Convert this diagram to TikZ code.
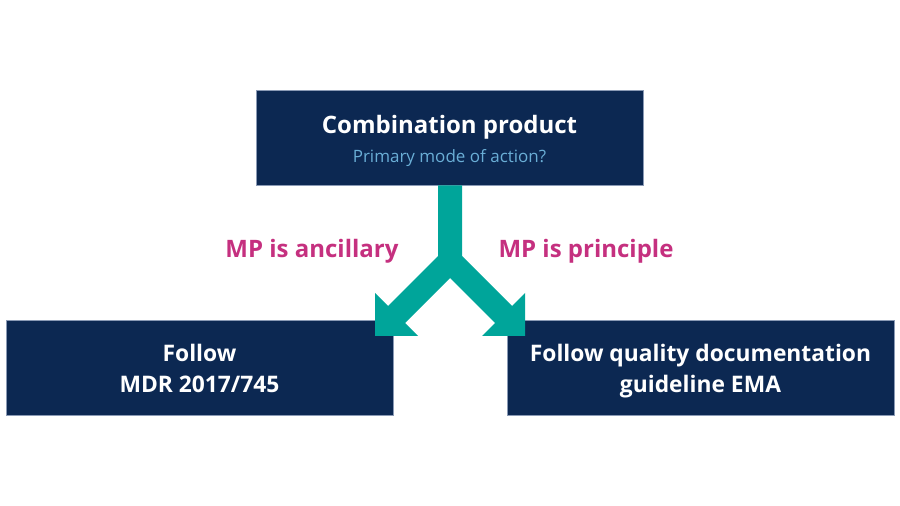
\documentclass[tikz,border=0pt]{standalone}
\usepackage{fontspec}
\setmainfont{Open Sans}
\definecolor{navy}{HTML}{0C2852}
\definecolor{teal}{HTML}{00A59A}
\definecolor{pinkl}{HTML}{C5307F}
\definecolor{subblue}{HTML}{6AAED6}
\definecolor{edge}{HTML}{8A9AB5}
\tikzset{
  box/.style={rectangle, fill=navy, draw=edge, line width=0.6pt, minimum width=387pt, minimum height=95pt, inner sep=0pt},
  boxtext/.style={anchor=base, inner sep=0pt, text=white, font=\bfseries\fontsize{22.8}{27}\selectfont},
  lbl/.style={anchor=base, text=pinkl, font=\bfseries\fontsize{24}{28}\selectfont, inner sep=0pt},
}
\begin{document}
\begin{tikzpicture}[x=1pt,y=1pt]
\useasboundingbox (0,0) rectangle (900,506);
\node[box] (top) at (449.5,368.5) {};
\node[box] (left) at (199.5,138.5) {};
\node[box] (right) at (700.5,138.5) {};
\node[boxtext, font=\bfseries\fontsize{24}{28}\selectfont] (t1) at (449.5,372) {Combination product};
\node[boxtext, text=subblue, font=\fontsize{17}{20}\selectfont] (t2) at (449.5,343.5) {Primary mode of action?};
\node[boxtext] (l1) at (199.5,144) {Follow};
\node[boxtext] (l2) at (199.5,113.5) {MDR 2017/745};
\node[boxtext] (r1) at (700.5,144) {Follow quality documentation};
\node[boxtext] (r2) at (700.5,113.5) {guideline EMA};
\node[lbl] (la) at (312,248) {MP is ancillary};
\node[lbl] (lp) at (586,248) {MP is principle};
\coordinate (s1) at (top.south -| 438,0);
\coordinate (s2) at (top.south -| 462,0);
\fill[teal] (s1) -- (438,250) -- (388,200) -- (375,213) -- (375,170) -- (418,170) -- (405,183) -- (450,228) -- (495,183) -- (482,170) -- (525,170) -- (525,213) -- (512,200) -- (462,250) -- (s2) -- cycle;
\end{tikzpicture}
\end{document}
